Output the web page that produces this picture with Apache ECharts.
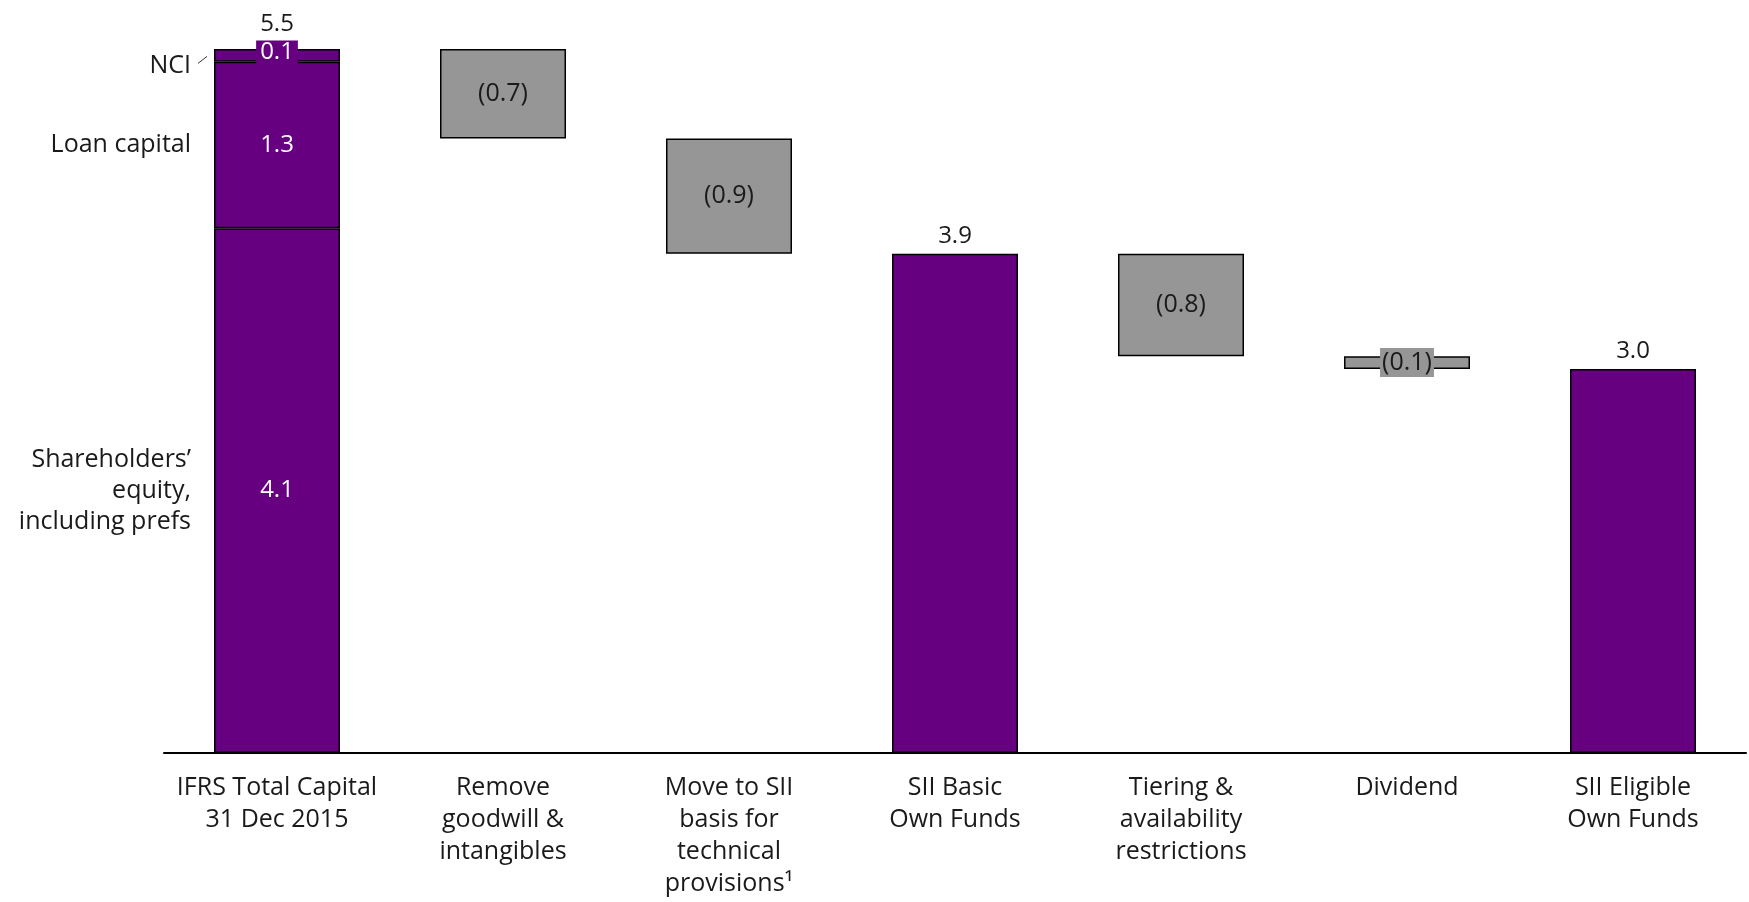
<!DOCTYPE html>
<html>
<head>
<meta charset="utf-8">
<script src="https://cdn.jsdelivr.net/npm/echarts@6/dist/echarts.min.js"></script>
<style>
html,body{margin:0;padding:0;background:#fff;}
#chart{width:1749px;height:902px;}
</style>
</head>
<body>
<div id="chart"></div>
<script>
const categories = [
  'IFRS Total Capital\n31 Dec 2015',
  'Remove\ngoodwill &\nintangibles',
  'Move to SII\nbasis for\ntechnical\nprovisions¹',
  'SII Basic\nOwn Funds',
  'Tiering &\navailability\nrestrictions',
  'Dividend',
  'SII Eligible\nOwn Funds'
];
const baseValues     = [0, 4.8, 3.9, 0, 3.1, 3.0, 0];
const equityValues   = [4.1, '-', '-', '-', '-', '-', '-'];
const loanValues     = [1.3, '-', '-', '-', '-', '-', '-'];
const nciValues      = [0.1, '-', '-', '-', '-', '-', '-'];
const totalValues    = ['-', '-', '-', 3.9, '-', '-', 3.0];
const decreaseValues = ['-', 0.7, 0.9, '-', 0.8, 0.1, '-'];
const decreaseLabels = ['', '(0.7)', '(0.9)', '', '(0.8)', '(0.1)', ''];
const ifrsTotalValue = [0, '-', '-', '-', '-', '-', '-'];
const ifrsTotalLabel = '5.5';
const segmentNames = ['Shareholders\u2019\nequity,\nincluding prefs', 'Loan capital', 'NCI'];

const PURPLE = '#660080';
const GRAY = '#969696';
const FONT = '"Open Sans", "Noto Sans", sans-serif';
const TXT = '#1a1a1a';
const BW = 126;

const chart = echarts.init(document.getElementById('chart'));
const border = {borderColor: '#000', borderWidth: 1.5};

const option = {
  animation: false,
  backgroundColor: '#fff',
  textStyle: {fontFamily: FONT},
  grid: {left: 164, right: 3, top: 49, bottom: 149, containLabel: false},
  xAxis: {
    type: 'category',
    data: categories,
    axisLine: {show: true, lineStyle: {color: '#000', width: 2}},
    axisTick: {show: false},
    axisLabel: {interval: 0, fontSize: 25, lineHeight: 32, color: TXT, margin: 19, fontFamily: FONT}
  },
  yAxis: {type: 'value', min: 0, max: 5.5, show: false, splitLine: {show: false}},
  series: [
    {type: 'bar', stack: 'w', data: baseValues, barWidth: BW, silent: true,
     itemStyle: {color: 'transparent', borderWidth: 0}},
    {type: 'bar', stack: 'w', data: equityValues, barWidth: BW,
     itemStyle: Object.assign({color: PURPLE}, border),
     label: {show: true, position: 'inside', color: '#fff', fontSize: 24, fontFamily: FONT}},
    {type: 'bar', stack: 'w', data: loanValues, barWidth: BW,
     itemStyle: Object.assign({color: PURPLE}, border),
     label: {show: true, position: 'inside', color: '#fff', fontSize: 24, fontFamily: FONT}},
    {type: 'bar', stack: 'w', data: nciValues, barWidth: BW,
     itemStyle: Object.assign({color: PURPLE}, border),
     label: {show: true, position: 'inside', color: '#fff', fontSize: 24, fontFamily: FONT,
             backgroundColor: PURPLE, padding: [0, 4, 0, 4], offset: [0, -3]}},
    {type: 'bar', stack: 'w', data: ifrsTotalValue, barWidth: BW,
     itemStyle: {color: 'transparent', borderWidth: 0},
     label: {show: true, position: 'top', distance: 13, color: TXT, fontSize: 24, fontFamily: FONT,
             formatter: () => ifrsTotalLabel}},
    {type: 'bar', stack: 'w', data: totalValues, barWidth: BW,
     itemStyle: Object.assign({color: PURPLE}, border),
     label: {show: true, position: 'top', distance: 6, color: TXT, fontSize: 24, fontFamily: FONT,
             formatter: p => Number(p.value).toFixed(1)}},
    {type: 'bar', stack: 'w', data: decreaseValues, barWidth: BW,
     itemStyle: Object.assign({color: GRAY}, border),
     label: {show: true, position: 'inside', color: TXT, fontSize: 25, fontFamily: FONT,
             formatter: p => decreaseLabels[p.dataIndex],
             backgroundColor: GRAY, padding: [2, 2, 2, 2]}}
  ]
};
chart.setOption(option);

// side annotations for the first bar's segments, positioned through the chart's scales
const segMid = [equityValues[0] / 2, equityValues[0] + loanValues[0] / 2, equityValues[0] + loanValues[0] + nciValues[0] / 2];
const g = [];
segMid.forEach((v, i) => {
  const p = chart.convertToPixel({gridIndex: 0}, [0, v]);
  const x = p[0] - BW / 2 - 23;
  const y = i === 2 ? p[1] + 10 : p[1];
  g.push({type: 'text', x: x, y: y,
    style: {text: segmentNames[i], fill: TXT, font: '25px ' + FONT, align: 'right', verticalAlign: 'middle', lineHeight: 31}});
  if (i === 2) {
    g.push({type: 'line', shape: {x1: x + 7, y1: y - 2, x2: x + 16, y2: y - 9},
      style: {stroke: '#333', lineWidth: 1}});
  }
});
chart.setOption({graphic: g});
</script>
</body>
</html>
